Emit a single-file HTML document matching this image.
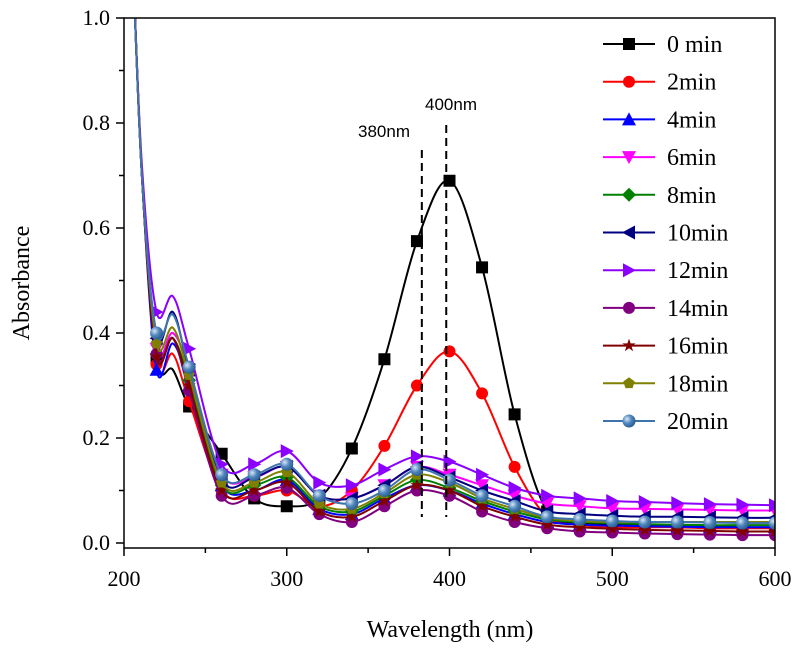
<!DOCTYPE html>
<html><head><meta charset="utf-8"><style>
body{margin:0;background:#fff}
svg text{font-family:"Liberation Serif",serif}
</style></head><body>
<svg id="chart" width="800" height="649" viewBox="0 0 800 649" xmlns="http://www.w3.org/2000/svg">
<defs><clipPath id="clip"><rect x="124" y="18" width="651" height="530"/></clipPath>
<radialGradient id="ball" cx="0.35" cy="0.35" r="0.7"><stop offset="0" stop-color="#d8e6f4"/><stop offset="0.5" stop-color="#4f86be"/><stop offset="1" stop-color="#2a5a8c"/></radialGradient></defs>
<g id="plot" clip-path="url(#clip)"></g>
<g id="axes"></g>
<g id="legend"></g>
</svg>
<script>
const wl = [205,211,220,230,240,260,280,300,320,340,360,380,400,420,440,460,480,500,520,540,560,580,600];
const seriesNames = ["0 min","2min","4min","6min","8min","10min","12min","14min","16min","18min","20min"];
const s0  = [1.15,0.7,0.35,0.33,0.26,0.17,0.085,0.07,0.085,0.18,0.35,0.575,0.69,0.525,0.245,0.06,0.04,0.035,0.033,0.032,0.031,0.03,0.03];
const s2  = [1.15,0.7,0.34,0.36,0.27,0.10,0.09,0.10,0.07,0.10,0.185,0.30,0.365,0.285,0.145,0.05,0.035,0.03,0.03,0.03,0.028,0.028,0.028];
const s4  = [1.15,0.7,0.33,0.38,0.30,0.11,0.10,0.12,0.065,0.055,0.085,0.11,0.10,0.075,0.055,0.04,0.035,0.033,0.032,0.031,0.03,0.03,0.03];
const s6  = [1.15,0.7,0.37,0.40,0.33,0.13,0.125,0.145,0.09,0.085,0.11,0.145,0.13,0.11,0.09,0.075,0.07,0.066,0.065,0.064,0.063,0.062,0.062];
const s8  = [1.15,0.7,0.36,0.39,0.31,0.11,0.11,0.125,0.07,0.06,0.09,0.12,0.105,0.08,0.06,0.045,0.04,0.038,0.036,0.035,0.034,0.034,0.034];
const s10 = [1.15,0.7,0.39,0.44,0.33,0.12,0.125,0.145,0.09,0.085,0.11,0.145,0.125,0.10,0.08,0.06,0.055,0.052,0.05,0.05,0.049,0.048,0.048];
const s12 = [1.15,0.72,0.44,0.47,0.37,0.15,0.15,0.175,0.115,0.11,0.14,0.165,0.155,0.13,0.105,0.09,0.085,0.08,0.078,0.076,0.074,0.073,0.072];
const s14 = [1.15,0.7,0.36,0.39,0.29,0.09,0.09,0.105,0.055,0.04,0.07,0.10,0.09,0.06,0.04,0.028,0.022,0.02,0.018,0.017,0.016,0.015,0.015];
const s16 = [1.15,0.7,0.355,0.39,0.30,0.10,0.10,0.115,0.06,0.05,0.08,0.11,0.10,0.07,0.05,0.035,0.03,0.027,0.025,0.024,0.023,0.022,0.022];
const s18 = [1.15,0.7,0.38,0.41,0.32,0.115,0.115,0.135,0.075,0.065,0.095,0.13,0.115,0.085,0.065,0.048,0.042,0.04,0.04,0.04,0.04,0.04,0.04];
const s20 = [1.15,0.7,0.40,0.435,0.335,0.13,0.13,0.15,0.09,0.075,0.10,0.14,0.12,0.09,0.07,0.05,0.045,0.042,0.04,0.04,0.039,0.038,0.038];
const allSeries = [s0,s2,s4,s6,s8,s10,s12,s14,s16,s18,s20];
const colors = ["#000000","#ff0000","#0000ff","#ff00ff","#008000","#000080","#8b00ff","#800080","#800000","#808000","#3e74ad"];
const shapes = ["square","circle","tri-up","tri-down","diamond","tri-left","tri-right","hex","star","pent","ball"];
const xTicks = [200,300,400,500,600];
const yTicks = [0.0,0.2,0.4,0.6,0.8,1.0];

const X = v => 124 + (v-200)*(651/400);
const Y = v => 543 - v*525;
const NS = "http://www.w3.org/2000/svg";
function mk(tag, attrs, parent){const e=document.createElementNS(NS,tag);for(const k in attrs)e.setAttribute(k,attrs[k]);parent.appendChild(e);return e;}
const plot=document.getElementById('plot'), axes=document.getElementById('axes'), legend=document.getElementById('legend');

function smoothPath(pts){
  let d=`M${pts[0][0]},${pts[0][1]}`;
  for(let i=0;i<pts.length-1;i++){
    const p0=pts[Math.max(0,i-1)],p1=pts[i],p2=pts[i+1],p3=pts[Math.min(pts.length-1,i+2)];
    const c1=[p1[0]+(p2[0]-p0[0])/6,p1[1]+(p2[1]-p0[1])/6];
    const c2=[p2[0]-(p3[0]-p1[0])/6,p2[1]-(p3[1]-p1[1])/6];
    d+=` C${c1[0]},${c1[1]} ${c2[0]},${c2[1]} ${p2[0]},${p2[1]}`;
  }
  return d;
}
function marker(shape,x,y,c,parent,s){
  s=s||6;let e;
  if(shape==="square") e=mk('rect',{x:x-s,y:y-s,width:2*s,height:2*s,fill:c},parent);
  else if(shape==="circle"||shape==="hex") e=mk('circle',{cx:x,cy:y,r:s,fill:c},parent);
  else if(shape==="ball") e=mk('circle',{cx:x,cy:y,r:s+0.5,fill:"url(#ball)"},parent);
  else {
    let p;
    if(shape==="tri-up") p=[[x,y-s-1],[x+s+1,y+s],[x-s-1,y+s]];
    else if(shape==="tri-down") p=[[x-s-1,y-s],[x+s+1,y-s],[x,y+s+1]];
    else if(shape==="tri-left") p=[[x-s-1,y],[x+s,y-s-1],[x+s,y+s+1]];
    else if(shape==="tri-right") p=[[x+s+1,y],[x-s,y-s-1],[x-s,y+s+1]];
    else if(shape==="diamond") p=[[x,y-s-1],[x+s+1,y],[x,y+s+1],[x-s-1,y]];
    else if(shape==="pent"){p=[];for(let k=0;k<5;k++){const a=-Math.PI/2+k*2*Math.PI/5;p.push([x+s*Math.cos(a),y+s*Math.sin(a)]);}}
    else {p=[];for(let k=0;k<10;k++){const a=-Math.PI/2+k*Math.PI/5,r=k%2?s*0.45:s+1;p.push([x+r*Math.cos(a),y+r*Math.sin(a)]);}}
    e=mk('polygon',{points:p.map(q=>q.join(',')).join(' '),fill:c},parent);
  }
  return e;
}
allSeries.forEach((s,i)=>{
  const g=mk('g',{},plot);
  
  
  const pts=wl.map((w,j)=>[X(w),Y(s[j])]);
  const line=mk('path',{d:smoothPath(pts),fill:'none',stroke:colors[i],'stroke-width':2},g);
  
  
  wl.forEach((w,j)=>{ if(w<220 || w%20!==0) return;
    const m=marker(shapes[i],X(w),Y(s[j]),colors[i],g);
    
    
  });
});
[[383,150,"380nm",358,137],[398,125,"400nm",425,110]].forEach(r=>{
  const l=mk('line',{x1:X(r[0]),x2:X(r[0]),y1:r[1],y2:517,stroke:'#000','stroke-width':2,'stroke-dasharray':'8,5'},axes);
  
  
  const t=mk('text',{x:r[3],y:r[4],'font-size':17,style:'font-family:"Liberation Sans",sans-serif'},axes);t.textContent=r[2];
  
  
});
const fr=mk('rect',{x:124,y:18,width:651,height:530,fill:'none',stroke:'#000','stroke-width':1.5},axes);


for(let v=200;v<=600;v+=50){const mj=v%100===0;mk('line',{x1:X(v),x2:X(v),y1:548,y2:548+(mj?8:5),stroke:'#000','stroke-width':1.5},axes);}
xTicks.forEach(v=>{const t=mk('text',{x:X(v),y:586,'font-size':22,'text-anchor':'middle'},axes);t.textContent=v;
  
  });
for(let k=0;k<=10;k++){const v=k/10;mk('line',{x1:124,x2:124-(k%2?5:8),y1:Y(v),y2:Y(v),stroke:'#000','stroke-width':1.5},axes);}
yTicks.forEach(v=>{const t=mk('text',{x:110,y:Y(v)+7,'font-size':22,'text-anchor':'end'},axes);t.textContent=v.toFixed(1);
  
  });
const xt=mk('text',{x:450,y:637,'font-size':24,'text-anchor':'middle'},axes);xt.textContent="Wavelength (nm)";


const yt=mk('text',{x:0,y:0,'font-size':24,'text-anchor':'middle',transform:'translate(29,283) rotate(-90)'},axes);yt.textContent="Absorbance";


seriesNames.forEach((n,i)=>{
  const y=44+i*37.7;
  const g=mk('g',{},legend);
  
  
  mk('line',{x1:603,x2:655,y1:y,y2:y,stroke:colors[i],'stroke-width':2},g);
  marker(shapes[i],629,y,colors[i],g);
  const t=mk('text',{x:667,y:y+8,'font-size':24},g);t.textContent=n;
});
</script>
</body></html>
